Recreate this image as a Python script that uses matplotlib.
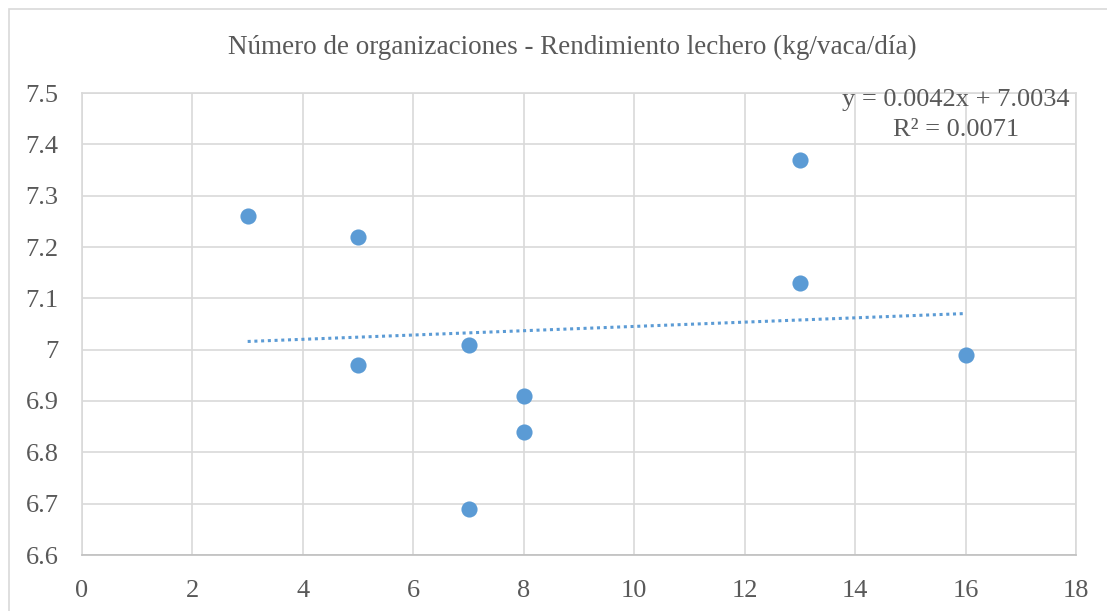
import matplotlib
matplotlib.use("Agg")
import matplotlib.pyplot as plt
import numpy as np
from matplotlib.patches import Rectangle

# Data
organizaciones = [3, 5, 5, 7, 7, 8, 8, 13, 13, 16]
rendimiento = [7.26, 7.22, 6.97, 7.01, 6.69, 6.91, 6.84, 7.37, 7.13, 6.99]
x_ticks = [0, 2, 4, 6, 8, 10, 12, 14, 16, 18]
y_ticks = [6.6, 6.7, 6.8, 6.9, 7.0, 7.1, 7.2, 7.3, 7.4, 7.5]
y_labels = ["6.6", "6.7", "6.8", "6.9", "7", "7.1", "7.2", "7.3", "7.4", "7.5"]
titulo = "Número de organizaciones - Rendimiento lechero (kg/vaca/día)"
ecuacion = "y = 0.0042x + 7.0034\nR² = 0.0071"

blue = "#5B9BD5"
grid_c = "#D9D9D9"
text_c = "#595959"

plt.rcParams["font.family"] = ["Liberation Serif", "DejaVu Serif"]

fig = plt.figure(figsize=(11.07, 6.11), dpi=100)
ax = fig.add_axes([82 / 1107, 1 - 555 / 611, (1076 - 82) / 1107, (555 - 93) / 611])

# outer chart border (cut off at right and bottom like the reference)
fig.patches.append(Rectangle((9 / 1107, -0.1), 1.2, 1 - 9 / 611 + 0.1,
                             transform=fig.transFigure, fill=False,
                             edgecolor=grid_c, linewidth=1.2))

ax.scatter(organizaciones, rendimiento, s=135, color=blue, zorder=3, linewidths=0)

# linear trendline
coef = np.polyfit(organizaciones, rendimiento, 1)
xs = np.array([min(organizaciones), max(organizaciones)])
ax.plot(xs, np.polyval(coef, xs), linestyle=(0, (1, 1.2)), color=blue,
        linewidth=2.2, zorder=2)

ax.set_xlim(0, 18)
ax.set_ylim(6.6, 7.5)
ax.set_xticks(x_ticks)
ax.set_yticks(y_ticks)
ax.set_yticklabels(y_labels)
ax.grid(True, color=grid_c, linewidth=1.2)
ax.set_axisbelow(True)
for side in ["left", "right", "top"]:
    ax.spines[side].set_color(grid_c)
    ax.spines[side].set_linewidth(1.2)
ax.spines["bottom"].set_color("#BFBFBF")
ax.spines["bottom"].set_linewidth(1.2)
ax.tick_params(axis="both", length=0, labelsize=19, colors=text_c)
ax.tick_params(axis="x", pad=18)
ax.tick_params(axis="y", pad=17)

fig.text(572 / 1107, 1 - 47 / 611, titulo, ha="center", va="center",
         fontsize=19.5, color=text_c)
ax.text(956 / 1107, 1 - 115 / 611, ecuacion, transform=fig.transFigure,
        ha="center", va="center", fontsize=19, color=text_c, linespacing=1.45)

plt.savefig("out.png", dpi=100)
